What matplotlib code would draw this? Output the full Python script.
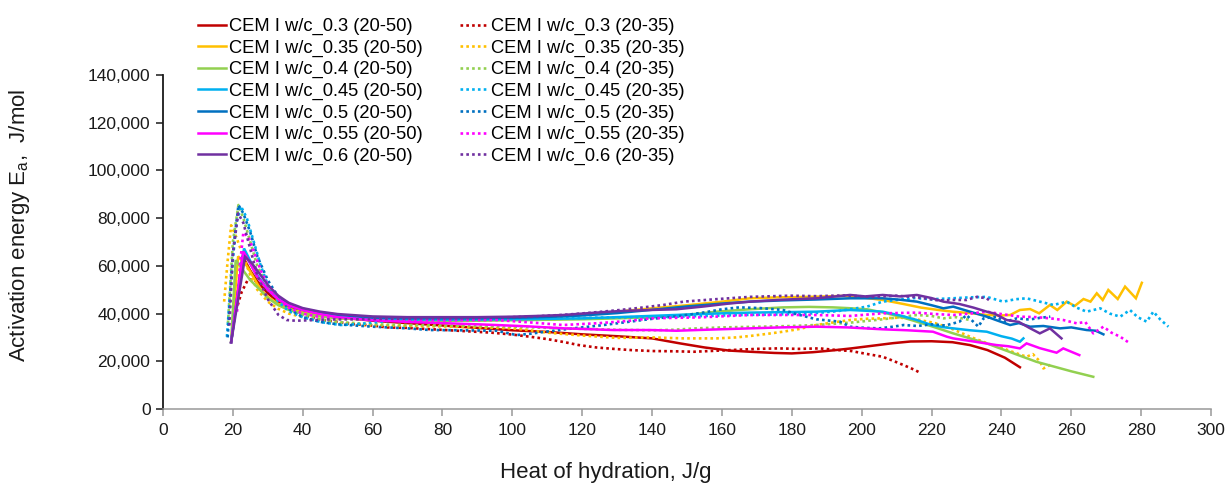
import matplotlib
matplotlib.use("Agg")
import matplotlib.pyplot as plt
from matplotlib.ticker import FuncFormatter, MultipleLocator

plt.rcParams['font.family'] = ['Liberation Sans', 'DejaVu Sans']
plt.rcParams['mathtext.fontset'] = 'custom'
plt.rcParams['mathtext.rm'] = 'Liberation Sans'

# ---------------- data (heat of hydration J/g, activation energy in 1000 J/mol) -------------
labels_50 = ["CEM I w/c_0.3 (20-50)", "CEM I w/c_0.35 (20-50)", "CEM I w/c_0.4 (20-50)",
             "CEM I w/c_0.45 (20-50)", "CEM I w/c_0.5 (20-50)", "CEM I w/c_0.55 (20-50)",
             "CEM I w/c_0.6 (20-50)"]
labels_35 = ["CEM I w/c_0.3 (20-35)", "CEM I w/c_0.35 (20-35)", "CEM I w/c_0.4 (20-35)",
             "CEM I w/c_0.45 (20-35)", "CEM I w/c_0.5 (20-35)", "CEM I w/c_0.55 (20-35)",
             "CEM I w/c_0.6 (20-35)"]
colors = ["#C00000", "#FFC000", "#92D050", "#00B0F0", "#0070C0", "#FF00FF", "#7030A0"]

# w/c 0.3
q_03_50 = [19.5, 22.8, 25, 27, 30, 33, 36, 40, 45, 50, 60, 70, 80, 90, 100, 110, 120, 130, 140, 148,
           155, 162, 168, 175, 180, 186, 192, 197, 203, 209, 214, 220, 226, 231, 236, 241, 245.3]
ea_03_50 = [28, 64, 58, 53.5, 48.5, 45, 43, 41, 39.5, 38.5, 37, 36, 35, 34, 33, 32.3, 31.3, 30.5, 29.6, 27.5,
            25.8, 24.5, 24, 23.5, 23.3, 23.8, 24.6, 25.4, 26.5, 27.6, 28.3, 28.4, 28, 26.8, 24.7, 21.5, 17.5]
q_03_35 = [21.4, 22.5, 24.4, 26, 28, 30, 33, 36, 40, 45, 50, 55, 60, 64, 70, 76, 82, 88, 94, 100, 105, 110,
           115, 119, 124, 129, 134, 140, 146, 152, 158, 164, 170, 176, 182, 188, 193, 197, 201, 206, 209,
           212, 215, 217]
ea_03_35 = [43.6, 49, 54.5, 54, 52.5, 49, 45, 42, 39.5, 37.5, 36.5, 35.5, 35, 34.2, 34, 33.5, 33, 32.5, 32,
            31.2, 30.3, 29.3, 28, 26.8, 25.8, 25.2, 24.7, 24.3, 24.2, 24, 24.4, 24.8, 25.2, 25.4, 25.2, 25.4,
            24.7, 24.3, 23.2, 21.9, 20.2, 18.4, 16.5, 15]

# w/c 0.35
q_035_50 = [19.5, 21.5, 24, 26, 28, 30, 33, 36, 40, 45, 50, 60, 70, 80, 90, 100, 110, 120, 130, 140, 150,
            160, 168, 176, 185, 195, 200, 206, 212, 217, 222, 226, 231, 236, 240, 242.5, 245.3, 248.2,
            250.8, 253.9, 256, 258.7, 261, 263.5, 265.5, 267.3, 269, 270.6, 273.3, 275.4, 278.5, 280.2]
ea_035_50 = [28, 64, 60, 55, 50, 47, 44, 42, 40.5, 39, 38, 37.5, 37.5, 37.5, 37.8, 38, 38.5, 39.5, 40.8,
             42.2, 43.5, 45, 46.4, 46.8, 47, 47.4, 46.8, 45.7, 44, 42.5, 41.5, 40.8, 40.2, 39.4, 39.2, 39.4,
             41.5, 41.9, 40.1, 43.6, 41.5, 45, 43.2, 46.1, 45, 48.5, 45.7, 49.9, 46.1, 51.3, 46.4, 52.9]
q_035_35 = [17.5, 18.5, 19.5, 21, 23, 25, 27, 30, 33, 36, 40, 45, 50, 55, 60, 70, 80, 90, 100, 105, 110,
            120, 130, 140, 149, 158.5, 164, 168, 173, 177.5, 182, 187, 192, 196.7, 201, 206, 211, 216, 221,
            226, 231, 236, 240.5, 244, 247.2, 249, 251, 252, 254]
ea_035_35 = [45, 62, 77, 72, 64, 56, 50, 45, 42, 40, 38.5, 37, 36, 35.5, 35, 34.8, 34.6, 34.2, 33.8, 33, 32,
             30.8, 29.8, 30, 29.6, 29.6, 30, 30.6, 31.5, 32.4, 33.5, 35.2, 36.3, 37.3, 37.8, 38, 38.3, 37.5,
             36, 33.5, 30.3, 27.5, 25.4, 23.5, 21.9, 23, 20, 17, 18.5]

# w/c 0.4
q_04_50 = [19.5, 20.8, 23, 25, 27.8, 30, 33, 36, 40, 45, 50, 60, 70, 80, 90, 100, 110, 120, 130, 139.4, 150,
           158.5, 168, 177.5, 185, 191.8, 196, 201.5, 206, 211, 216, 220.4, 226.2, 231, 235.8, 240, 245,
           250, 255, 260, 266.3]
ea_04_50 = [28, 62.4, 58, 54, 49.9, 46.5, 43.5, 41.5, 40, 38.8, 38, 37.5, 37.2, 37, 37, 37.2, 37.4, 37.6, 38,
            38.4, 39.5, 40.8, 41.8, 42.6, 42.8, 42.6, 42.3, 41.8, 40.5, 38.7, 36.5, 34.5, 31.7, 29.6, 27.5,
            25.2, 22.5, 19.8, 17.8, 15.8, 13.5]
q_04_35 = [18.6, 20, 21.6, 23, 25, 27, 30, 33, 36, 40, 45, 50, 60, 70, 80, 90, 100, 110, 120, 130, 140, 146,
           152.8, 160, 171, 180, 187, 196.7, 206, 211, 215.8, 220, 223.4, 227, 231]
ea_04_35 = [36, 70, 85.5, 80, 70, 60, 51, 45, 42, 39.5, 37.5, 36.5, 35.5, 35.2, 35, 34.8, 34.5, 34, 33.6,
            33.2, 33, 33.2, 33.8, 34.2, 34.5, 34.8, 35.2, 36.2, 37.6, 38.5, 39.4, 39, 38, 38.5, 37.3]

# w/c 0.45
q_045_50 = [19.5, 23.2, 25, 27, 30, 33, 36, 40, 45, 50, 60, 70, 80, 90, 100, 110, 120, 130, 139.4, 150, 160,
            168, 178, 187, 196.7, 201, 206, 211, 215.8, 220, 223.4, 226.2, 231, 235.8, 240, 243, 245.3, 246.3]
ea_045_50 = [28, 67.3, 62, 56, 50, 46, 43.5, 41.5, 40, 39, 38, 37.6, 37.5, 37.5, 37.6, 37.8, 38, 38.5, 39,
             39.6, 40.1, 40.4, 40.6, 40.8, 41.5, 41.2, 40.8, 39.2, 37.3, 35.2, 34.3, 33.8, 33, 32.4, 30.5,
             29.5, 28.2, 29.6]
q_045_35 = [18.3, 19.5, 21, 22.3, 24, 26, 28, 30, 33, 36, 40, 45, 50.7, 55, 60, 67, 75, 85, 95, 105, 115, 125,
            135, 147, 155, 165, 175, 185, 193, 201.5, 206, 210, 215, 220, 226, 231, 235.8, 240.5, 244, 247.2,
            251, 254.9, 258.7, 261.5, 264.4, 268.3, 271, 274, 276.8, 279, 281.6, 283.5, 285.5, 287.8]
ea_045_35 = [30.3, 55, 78, 85, 80, 70, 60, 52, 45, 41, 38.5, 36.5, 35.2, 35.5, 36.2, 37.3, 37.5, 37.5, 37.6,
             37.8, 38, 38.3, 38.5, 38.7, 39, 39.4, 39.6, 40, 41, 42.9, 45, 45.7, 46.5, 46, 46.4, 46.8, 47,
             45, 46, 46.4, 45, 43.6, 45, 42.5, 40.8, 42.2, 40, 38.7, 41.5, 38.5, 36.6, 40.8, 37.5, 34.5]

# w/c 0.5
q_05_50 = [19.5, 23, 25, 27, 30, 33, 36, 40, 45, 50, 60, 70, 80, 90, 100, 110, 120, 130, 139.4, 150, 160,
           168, 177, 187, 196.7, 206, 211, 215.8, 220, 223.4, 226.2, 231, 235.8, 239, 242.5, 245, 248.2,
           252, 256.8, 260, 264.4, 267, 269.2]
ea_05_50 = [28, 66, 61, 55.5, 50, 46.3, 44, 42, 40.5, 39.5, 38.3, 38, 38, 38, 38.2, 38.6, 39.2, 40.2, 41.5,
            43, 44.2, 45, 45.5, 45.9, 46.4, 46.4, 45.8, 45, 43.5, 42.2, 42.9, 40.8, 38.7, 37, 35.2, 36,
            34.5, 34.8, 33.8, 34.2, 33.1, 32.8, 31.3]
q_05_35 = [18.5, 20, 21.6, 23, 25, 27, 30, 33, 36, 40, 45, 50, 60, 70, 76.4, 85, 95.5, 101.2, 105, 110, 117.4,
           125, 132, 140, 148, 155, 160, 165, 171, 177.5, 182, 187, 193.8, 196.7, 201, 205, 209, 212, 216,
           220, 224, 228, 230, 233.4, 234.9, 238.6, 241, 244.4, 248, 251, 254]
ea_05_35 = [30, 65, 85.5, 82, 74, 64, 54, 47, 42, 38.5, 36.5, 35.5, 34.5, 33.8, 33.1, 33, 32.8, 31, 31.5,
            32.5, 33.8, 35, 36.3, 37.8, 39, 40.5, 41.8, 42.6, 42.3, 41.5, 39.5, 37.6, 36.6, 34.5, 34, 33.8,
            34.5, 35.2, 34.8, 35.5, 35, 36.6, 39.4, 34.5, 38, 38.7, 36.5, 38, 37.5, 38.2, 38.7]

# w/c 0.55
q_055_50 = [19.5, 23, 25, 27, 30, 33, 36, 40, 45, 50, 60, 70, 80, 90, 95.5, 105, 115, 128.8, 139.4, 147, 155,
            168, 177, 187, 196, 206, 213, 220.4, 224.4, 226.2, 232, 238.6, 242, 245.3, 247.2, 251, 255.8,
            257.7, 262.3]
ea_055_50 = [28, 66, 61, 55.5, 50, 46, 43.5, 41.5, 39.8, 38.5, 37.2, 36.5, 36, 35.5, 35.2, 34.6, 33.8, 33.1,
             33.1, 32.8, 33.2, 33.8, 34.2, 34.5, 34.2, 33.4, 33, 32.4, 30.3, 29.6, 28.3, 26.8, 26.3, 25.4,
             27.5, 25.5, 23.6, 25.4, 22.6]
q_055_35 = [21.2, 22, 23, 24.5, 26, 28, 30, 33, 36, 40, 45, 50, 60, 70, 80, 95.5, 105, 114.5, 125, 133.7,
            139.4, 153.7, 168, 187, 196.7, 206, 215.8, 221, 226.2, 231, 235.8, 240, 245.3, 250, 254, 257.7,
            261.6, 264, 266.3, 269.2, 271.5, 274, 276.8]
ea_055_35 = [40.8, 60, 74, 72, 66, 58, 52, 46, 42.5, 40, 38.5, 38, 37.5, 37.3, 37.2, 37.3, 36.3, 35.2, 36,
             37, 38, 38.4, 39.4, 39.4, 39, 40.1, 40.4, 39.8, 39.4, 40, 40.8, 39.8, 38.7, 38.5, 38, 37.3, 35.9,
             36.5, 31.7, 34.5, 32, 30.3, 27.5]

# w/c 0.6
q_06_50 = [19.5, 23.5, 25.5, 27.5, 30, 33, 36, 40, 45, 50, 60, 70, 80, 90, 100, 107, 114.5, 122, 130, 139.4,
           147, 155, 162, 168, 177, 187, 196.7, 201, 206, 211, 215.8, 220, 223.4, 228, 232, 235.8, 238,
           241.5, 245, 248, 251, 253.9, 257.2]
ea_06_50 = [28, 63.8, 61, 57, 52, 47.5, 44.5, 42.3, 40.8, 39.8, 38.8, 38.5, 38.5, 38.5, 38.7, 39, 39.4, 40.2,
            41, 41.5, 41.8, 43, 44.2, 45, 45.8, 46.4, 47.8, 47.2, 47.8, 47.2, 47.8, 46.5, 45, 44, 42.5, 40.8,
            40, 37.3, 36.5, 34, 31.7, 33.8, 29.6]
q_06_35 = [19, 20, 21.5, 23, 25, 27, 30, 33, 35.4, 38, 42, 47, 55, 65, 75, 85, 95, 105, 115, 122, 130.8, 137,
           143.2, 149, 158, 168, 179.5, 187, 195, 203, 210, 216, 222, 226.2, 230, 233, 235.8, 237]
ea_06_35 = [35, 65, 82, 78, 67, 56, 46, 39.5, 37.3, 37, 37.2, 37.5, 37.6, 37.8, 38, 38, 38.3, 38.7, 39.5,
            40.3, 41.5, 42.5, 43.6, 45, 46, 47, 47.5, 47.3, 47.6, 47, 47.5, 46.8, 45.5, 45.7, 45.7, 47, 46.4, 45]

series_50 = [(q_03_50, ea_03_50), (q_035_50, ea_035_50), (q_04_50, ea_04_50), (q_045_50, ea_045_50),
             (q_05_50, ea_05_50), (q_055_50, ea_055_50), (q_06_50, ea_06_50)]
series_35 = [(q_03_35, ea_03_35), (q_035_35, ea_035_35), (q_04_35, ea_04_35), (q_045_35, ea_045_35),
             (q_05_35, ea_05_35), (q_055_35, ea_055_35), (q_06_35, ea_06_35)]

# ---------------- figure -------------
W, H = 1229, 484
fig = plt.figure(figsize=(W / 100, H / 100), dpi=100)
ax = fig.add_axes([163 / W, (H - 409) / H, 1048 / W, 334 / H])

solid_handles, dot_handles = [], []
for i in range(7):
    q, e = series_50[i]
    h1, = ax.plot(q, [v * 1000 for v in e], color=colors[i], lw=1.8, solid_joinstyle='miter')
    q, e = series_35[i]
    h2, = ax.plot(q, [v * 1000 for v in e], color=colors[i], lw=1.9, linestyle=(0, (1, 1.2)))
    solid_handles.append(h1)
    dot_handles.append(h2)

ax.set_xlim(0, 300)
ax.set_ylim(0, 140000)
ax.xaxis.set_major_locator(MultipleLocator(20))
ax.yaxis.set_major_locator(MultipleLocator(20000))
ax.yaxis.set_major_formatter(FuncFormatter(lambda v, p: f"{int(v):,}"))

for s in ("top", "right"):
    ax.spines[s].set_visible(False)
ax.spines["left"].set_color("#1a1a1a")
ax.spines["left"].set_linewidth(1.3)
ax.spines["bottom"].set_color("#999999")
ax.spines["bottom"].set_linewidth(1.1)
ax.tick_params(axis="y", direction="out", length=5, width=1.1, color="#1a1a1a",
               labelsize=12.5, labelcolor="#1a1a1a", pad=4)
ax.tick_params(axis="x", direction="out", length=5, width=1.1, color="#999999",
               labelsize=12.5, labelcolor="#1a1a1a", pad=5)

ax.set_xlabel("Heat of hydration, J/g", fontsize=16, color="#1a1a1a")
ax.xaxis.set_label_coords((606 - 163) / 1048, (409 - 462) / 334)
ax.set_ylabel(r"Activation energy E$_\mathregular{a}$,  J/mol", fontsize=16, color="#1a1a1a")
ax.yaxis.set_label_coords((32 - 163) / 1048, (409 - 225) / 334)

fig.legend(solid_handles + dot_handles, labels_50 + labels_35, ncol=2, loc="upper left",
           bbox_to_anchor=(198 / W, 1 - 18 / H), frameon=False, fontsize=13.2,
           handlelength=1.5, handletextpad=0.17, columnspacing=2.05, labelspacing=0.24,
           borderpad=0, borderaxespad=0)

fig.savefig("out.png", dpi=100)
